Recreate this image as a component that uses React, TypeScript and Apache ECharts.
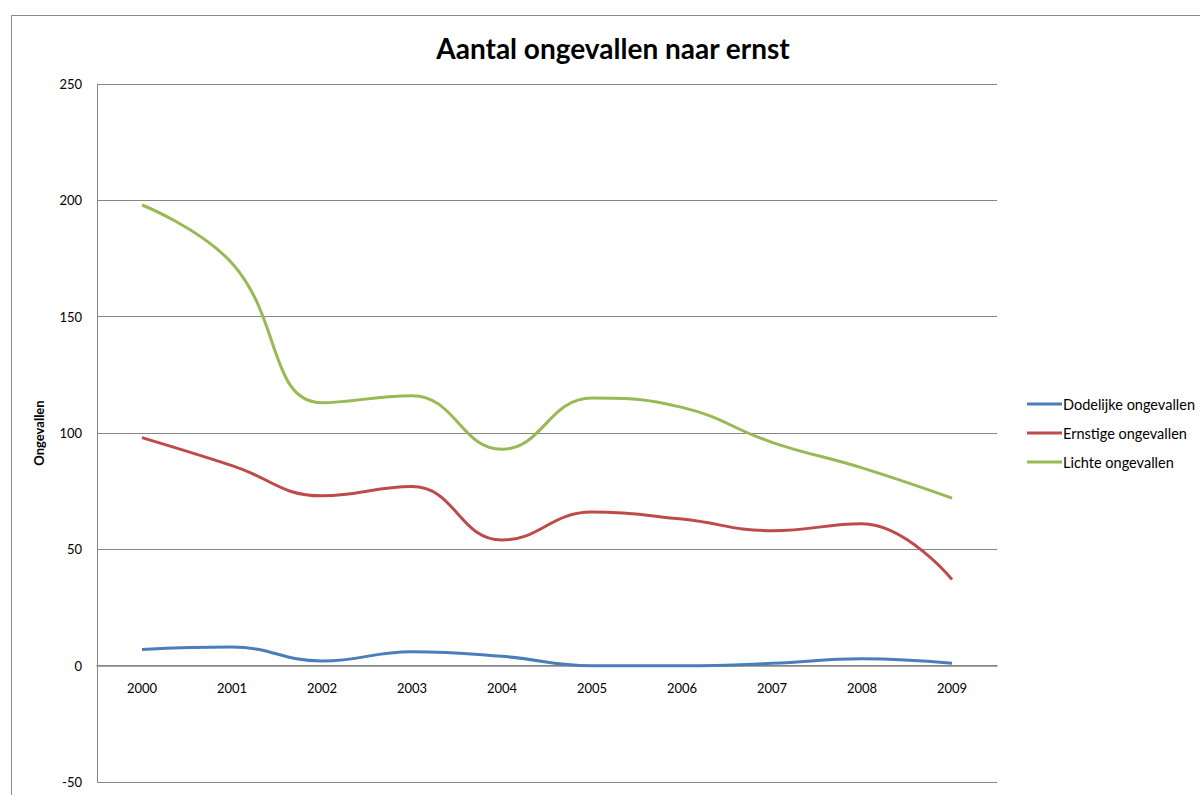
import React, { useEffect, useRef } from "react";
import * as echarts from "echarts";

const years = ["2000", "2001", "2002", "2003", "2004", "2005", "2006", "2007", "2008", "2009"];
const dodelijke = [7, 8, 2, 6, 4, 0, 0, 1, 3, 1];
const ernstige = [98, 86, 73, 77, 54, 66, 63, 58, 61, 37];
const lichte = [198, 173, 113, 116, 93, 115, 111, 96, 85, 72];
const Y_MIN = -50;
const Y_MAX = 250;

const FONT = "Lato, 'Noto Sans', sans-serif";

export default function App() {
  const ref = useRef<HTMLDivElement>(null);
  useEffect(() => {
    const chart = echarts.init(ref.current!, null, { renderer: "svg" });
    const H = 795;
    const gridTop = 84;
    const gridBottom = 13;
    const plotH = H - gridTop - gridBottom;
    const zeroOffset = -((0 - Y_MIN) / (Y_MAX - Y_MIN)) * plotH;
    const mk = (name: string, data: number[], color: string) => ({
      name,
      type: "line",
      data,
      smooth: 0.45,
      symbol: "none",
      lineStyle: { color, width: 3 },
      itemStyle: { color },
    });
    chart.setOption({
      animation: false,
      backgroundColor: "#fff",
      title: {
        text: "Aantal ongevallen naar ernst",
        left: 608,
        textAlign: "center",
        top: 29,
        textStyle: { fontFamily: FONT, fontSize: 28, fontWeight: "bold", color: "#000" },
      },
      graphic: [
        {
          type: "rect",
          shape: { x: 11.5, y: 15.5, width: 1300, height: 900 },
          style: { fill: "none", stroke: "#888", lineWidth: 1 },
          silent: true,
          z: -10,
        },
      ],
      legend: {
        orient: "vertical",
        left: 1022,
        top: 391,
        icon: "rect",
        itemWidth: 35,
        itemHeight: 3,
        itemGap: 13,
        textStyle: { fontFamily: FONT, fontSize: 14.5, lineHeight: 16, color: "#000", padding: [0, 0, 0, -4] },
        data: ["Dodelijke ongevallen", "Ernstige ongevallen", "Lichte ongevallen"],
      },
      grid: { left: 97, right: 203, top: gridTop, bottom: gridBottom, containLabel: false, outerBoundsMode: "none" },
      xAxis: {
        type: "category",
        data: years,
        boundaryGap: true,
        position: "bottom",
        offset: zeroOffset,
        axisLine: { onZero: false, lineStyle: { color: "#868686", width: 1.5 } },
        axisTick: { show: false },
        axisLabel: { fontFamily: FONT, fontSize: 13, color: "#000", margin: 16 },
      },
      yAxis: {
        type: "value",
        min: Y_MIN,
        max: Y_MAX,
        interval: 50,
        name: "Ongevallen",
        nameLocation: "middle",
        nameGap: 52,
        nameTextStyle: { fontFamily: FONT, fontSize: 13, fontWeight: "bold", color: "#000" },
        axisLine: { show: true, lineStyle: { color: "#868686" } },
        axisTick: { show: false },
        axisLabel: { fontFamily: FONT, fontSize: 13, color: "#000", margin: 15 },
        splitLine: { lineStyle: { color: "#868686", width: 1 } },
      },
      series: [
        mk("Dodelijke ongevallen", dodelijke, "#4a7ebb"),
        mk("Ernstige ongevallen", ernstige, "#be4b48"),
        mk("Lichte ongevallen", lichte, "#98b954"),
      ],
    });
    return () => chart.dispose();
  }, []);
  return (
    <div
      ref={ref}
      style={{ position: "fixed", left: 0, top: 0, width: 1200, height: 795 }}
    />
  );
}
